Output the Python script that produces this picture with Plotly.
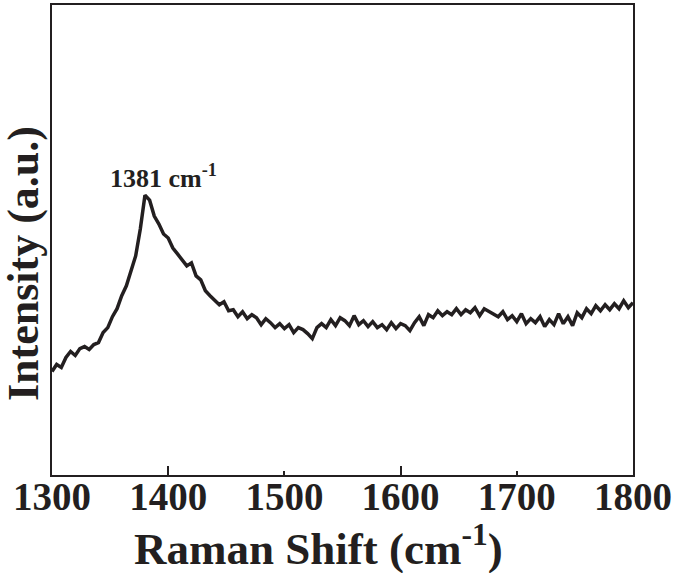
import plotly.graph_objects as go

# ---------------------------------------------------------------
# Raman spectrum

raman_shift = list(range(1300, 1801, 4))

intensity = [
    104, 111, 108, 118, 124, 120, 127, 129, 126, 131,
    133, 143, 148, 159, 167, 180, 190, 206, 220, 247,
    281, 276, 260, 252, 242, 238, 228, 222, 216, 210,
    213, 200, 196, 185, 180, 175, 171, 174, 165, 166,
    159, 164, 157, 161, 158, 151, 157, 153, 148, 152,
    147, 151, 143, 148, 146, 142, 137, 148, 152, 148,
    156, 150, 158, 155, 150, 160, 151, 155, 149, 154,
    148, 151, 146, 153, 147, 152, 150, 145, 153, 159,
    150, 161, 158, 165, 160, 164, 161, 167, 161, 166,
    163, 168, 160, 167, 164, 161, 159, 164, 156, 160,
    154, 162, 152, 157, 153, 159, 149, 156, 151, 162,
    152, 159, 150, 163, 158, 167, 162, 170, 165, 171,
    166, 172, 167, 175, 168, 173,
]

x_ticks = [1300, 1400, 1500, 1600, 1700, 1800]
peak_label = "1381 cm<sup>-1</sup>"

assert len(raman_shift) == len(intensity)

# ---------------------------------------------------------------

INK = "#231f20"
FONT = "Liberation Serif"

fig = go.Figure()
fig.add_trace(go.Scatter(
    x=raman_shift,
    y=intensity,
    mode="lines",
    line=dict(color=INK, width=3.5),
    showlegend=False,
))

fig.update_xaxes(
    range=[1300, 1800],
    tickmode="array",
    tickvals=x_ticks,
    ticks="inside",
    ticklen=4,
    tickwidth=1.5,
    tickcolor=INK,
    minor=dict(tickmode="array", tickvals=[1400, 1600], ticks="inside",
               ticklen=9, tickwidth=1.5, tickcolor=INK),
    ticklabelstandoff=-14,
    ticklabeloverflow="allow",
    showline=True,
    linecolor=INK,
    linewidth=1.5,
    mirror=True,
    showgrid=False,
    zeroline=False,
    tickfont=dict(family=FONT, size=39, color=INK, weight="bold"),
)
fig.update_yaxes(
    range=[0, 472],
    showticklabels=False,
    ticks="",
    showline=True,
    linecolor=INK,
    linewidth=1.5,
    mirror=True,
    showgrid=False,
    zeroline=False,
)

fig.add_annotation(
    x=1396, y=300, xref="x", yref="y",
    text="<b>" + peak_label + "</b>",
    showarrow=False,
    font=dict(family=FONT, size=26, color=INK),
)
fig.add_annotation(
    x=0.459, y=-0.15, xref="paper", yref="paper",
    text="<b>Raman Shift (cm<sup>-1</sup>)</b>",
    showarrow=False, xanchor="center", yanchor="middle",
    font=dict(family=FONT, size=45, color=INK),
)
fig.add_annotation(
    x=-0.049, y=0.45, xref="paper", yref="paper",
    text="<b>Intensity (a.u.)</b>",
    showarrow=False, textangle=-90, xanchor="center", yanchor="middle",
    font=dict(family=FONT, size=44, color=INK),
)

fig.update_layout(
    width=675,
    height=573,
    margin=dict(l=52, r=38, t=3, b=98),
    paper_bgcolor="white",
    plot_bgcolor="white",
)

# the page's default body margin would push the figure off the window
fig.write_html(
    "out.html",
    config={"displayModeBar": False},
    post_script="document.body.style.margin='0';",
)
